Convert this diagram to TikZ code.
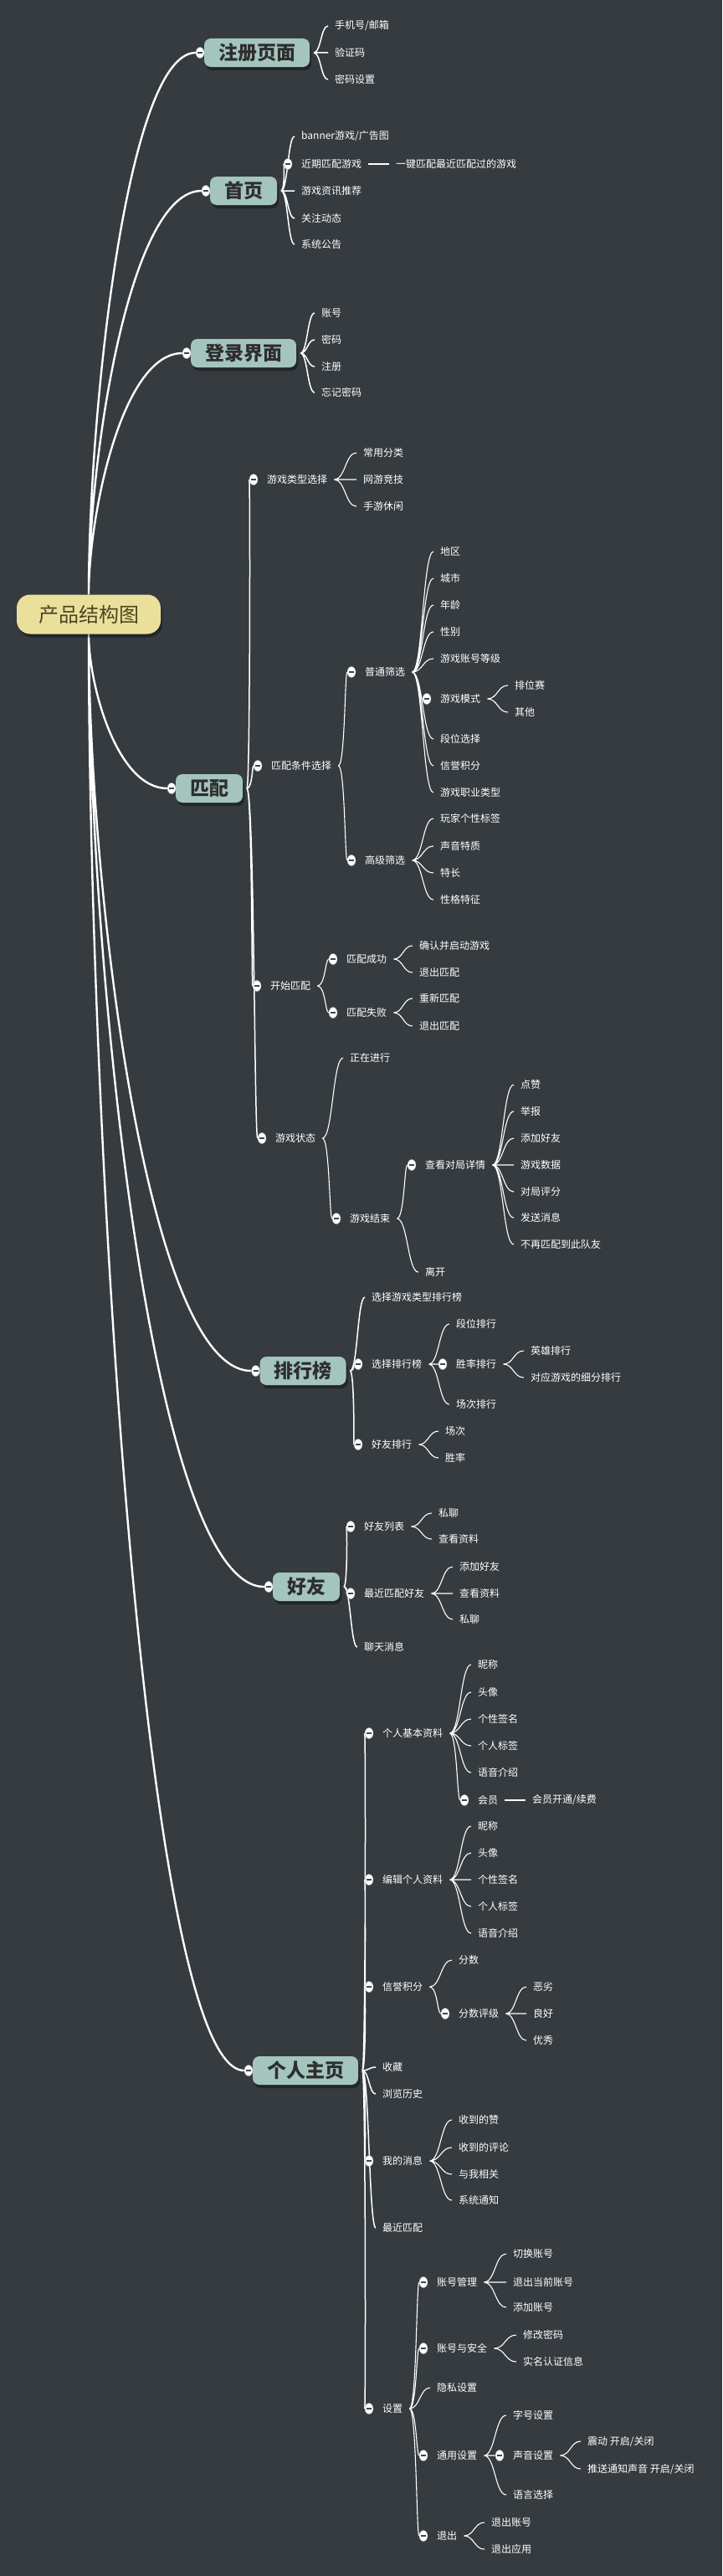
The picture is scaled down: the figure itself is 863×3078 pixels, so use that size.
\documentclass[tikz,border=0pt]{standalone}
\usepackage{fontspec}
\setmainfont{Noto Sans CJK SC}
\usetikzlibrary{calc,shapes.geometric,shadows}
\definecolor{bgc}{HTML}{363B3F}
\definecolor{topicfill}{HTML}{A4C5BD}
\definecolor{topictext}{HTML}{2E2E2E}
\definecolor{rootfill}{HTML}{EAE09C}
\definecolor{roottext}{HTML}{4E4420}
\definecolor{knobdark}{HTML}{444444}
\pgfdeclarelayer{back}
\pgfdeclarelayer{wires}
\pgfsetlayers{back,wires,main}
\begin{document}
\begin{tikzpicture}[x=1pt,y=-1pt,
  root/.style={rounded corners=16pt, fill=rootfill, text=roottext, font=\fontsize{24}{26}\selectfont,
    minimum width=172pt, minimum height=47pt, drop shadow={shadow xshift=2pt, shadow yshift=-4pt, fill=black, opacity=.35}},
  topic/.style={rounded corners=8pt, fill=topicfill, text=topictext, font=\bfseries\fontsize{23}{25}\selectfont,
    inner xsep=17pt, minimum height=34pt, outer xsep=5pt,
    drop shadow={shadow xshift=2pt, shadow yshift=-4pt, fill=black, opacity=.35}},
  item/.style={anchor=west, text=white, font=\fontsize{12}{14}\selectfont, inner xsep=8pt, inner ysep=2pt},
  knob/.style={ellipse, anchor=center, fill=white, draw=gray!70, line width=.4pt, minimum width=10pt,
    minimum height=13pt, inner sep=0pt,
    path picture={\draw[knobdark, line width=1.3pt] ([xshift=-3pt]path picture bounding box.center) -- ([xshift=3pt]path picture bounding box.center);}},
  head/.style={label={[knob,name=#1]left:{}}},
  fold/.style={label={[knob,name=#1,xshift=-8pt]left:{}}},
  trunk/.style={white, line width=2.4pt, to path={.. controls ($(\tikztostart)!0.33!(\tikztostart|-\tikztotarget)$) and ($(\tikztotarget)!0.66!(\tikztotarget-|\tikztostart)$) .. (\tikztotarget)}},
  sub/.style={white, line width=1.1pt, to path={.. controls ($(\tikztostart)!0.5!(\tikztostart-|\tikztotarget)$) and ($(\tikztotarget)!0.5!(\tikztotarget-|\tikztostart)$) .. (\tikztotarget)}},
  limb/.style={sub, line width=1.5pt}]
\useasboundingbox (0,0) rectangle (863,3078);
\begin{pgfonlayer}{back}
\fill[bgc] (0,0) rectangle (863,3078);
\end{pgfonlayer}

\node[root] (r) at (106,734) {产品结构图};
\node[topic,head=zck] (zc) at (307,63) {注册页面};
\node[topic,head=syk] (sy) at (291,228) {首页};
\node[topic,head=dlk] (dl) at (291,422) {登录界面};
\node[topic,head=ppk] (pp) at (250,942) {匹配};
\node[topic,head=phk] (ph) at (362,1638) {排行榜};
\node[topic,head=hyk] (hy) at (366,1896) {好友};
\node[topic,head=grk] (gr) at (365,2474) {个人主页};

\node[item] (zc1) at (392,31) {手机号/邮箱};
\node[item] (zc2) at (392,63) {验证码};
\node[item] (zc3) at (392,95) {密码设置};

\node[item] (sy1) at (352,163) {banner游戏/广告图};
\node[item,fold=sy2k] (sy2) at (352,196) {近期匹配游戏};
\node[item] (sy3) at (352,228) {游戏资讯推荐};
\node[item] (sy4) at (352,261) {关注动态};
\node[item] (sy5) at (352,292) {系统公告};
\node[item] (sy21) at (465,196) {一键匹配最近匹配过的游戏};

\node[item] (dl1) at (376,374) {账号};
\node[item] (dl2) at (376,406) {密码};
\node[item] (dl3) at (376,438) {注册};
\node[item] (dl4) at (376,469) {忘记密码};

\node[item,fold=lxk] (lx) at (311,573) {游戏类型选择};
\node[item] (lx1) at (426,541) {常用分类};
\node[item] (lx2) at (426,573) {网游竞技};
\node[item] (lx3) at (426,605) {手游休闲};
\node[item,fold=tjk] (tj) at (316,915) {匹配条件选择};
\node[item,fold=ptk] (pt) at (428,803) {普通筛选};
\node[item] (pt1) at (518,659) {地区};
\node[item] (pt2) at (518,691) {城市};
\node[item] (pt3) at (518,723) {年龄};
\node[item] (pt4) at (518,755) {性别};
\node[item] (pt5) at (518,787) {游戏账号等级};
\node[item,fold=pt6k] (pt6) at (518,835) {游戏模式};
\node[item] (pt7) at (518,883) {段位选择};
\node[item] (pt8) at (518,915) {信誉积分};
\node[item] (pt9) at (518,947) {游戏职业类型};
\node[item] (pt61) at (607,819) {排位赛};
\node[item] (pt62) at (607,851) {其他};
\node[item,fold=gjk] (gj) at (428,1028) {高级筛选};
\node[item] (gj1) at (518,978) {玩家个性标签};
\node[item] (gj2) at (518,1011) {声音特质};
\node[item] (gj3) at (518,1043) {特长};
\node[item] (gj4) at (518,1075) {性格特征};
\node[item,fold=ksk] (ks) at (315,1178) {开始匹配};
\node[item,fold=cgk] (cg) at (406,1146) {匹配成功};
\node[item] (cg1) at (493,1130) {确认并启动游戏};
\node[item] (cg2) at (493,1162) {退出匹配};
\node[item,fold=sbk] (sb) at (406,1210) {匹配失败};
\node[item] (sb1) at (493,1193) {重新匹配};
\node[item] (sb2) at (493,1226) {退出匹配};
\node[item,fold=ztk] (zt) at (321,1360) {游戏状态};
\node[item] (zt1) at (410,1264) {正在进行};
\node[item,fold=jsk] (js) at (410,1456) {游戏结束};
\node[item,fold=ckk] (ck) at (500,1392) {查看对局详情};
\node[item] (ck1) at (614,1296) {点赞};
\node[item] (ck2) at (614,1328) {举报};
\node[item] (ck3) at (614,1360) {添加好友};
\node[item] (ck4) at (614,1392) {游戏数据};
\node[item] (ck5) at (614,1424) {对局评分};
\node[item] (ck6) at (614,1455) {发送消息};
\node[item] (ck7) at (614,1487) {不再匹配到此队友};
\node[item] (js2) at (500,1520) {离开};

\node[item] (ph1) at (436,1550) {选择游戏类型排行榜};
\node[item,fold=xzk] (xz) at (436,1630) {选择排行榜};
\node[item] (xz1) at (537,1582) {段位排行};
\node[item,fold=xz2k] (xz2) at (537,1630) {胜率排行};
\node[item] (xz3) at (537,1678) {场次排行};
\node[item] (xz21) at (626,1614) {英雄排行};
\node[item] (xz22) at (626,1646) {对应游戏的细分排行};
\node[item,fold=hpk] (hp) at (436,1726) {好友排行};
\node[item] (hp1) at (524,1710) {场次};
\node[item] (hp2) at (524,1742) {胜率};

\node[item,fold=hlk] (hl) at (427,1824) {好友列表};
\node[item] (hl1) at (516,1808) {私聊};
\node[item] (hl2) at (516,1839) {查看资料};
\node[item,fold=zjk] (zj) at (427,1904) {最近匹配好友};
\node[item] (zj1) at (541,1872) {添加好友};
\node[item] (zj2) at (541,1904) {查看资料};
\node[item] (zj3) at (541,1935) {私聊};
\node[item] (lt) at (427,1968) {聊天消息};

\node[item,fold=jbk] (jb) at (449,2071) {个人基本资料};
\node[item] (jb1) at (563,1989) {昵称};
\node[item] (jb2) at (563,2022) {头像};
\node[item] (jb3) at (563,2054) {个性签名};
\node[item] (jb4) at (563,2086) {个人标签};
\node[item] (jb5) at (563,2118) {语音介绍};
\node[item,fold=jb6k] (jb6) at (563,2151) {会员};
\node[item] (jb61) at (628,2151) {会员开通/续费};
\node[item,fold=bjk] (bj) at (449,2246) {编辑个人资料};
\node[item] (bj1) at (563,2182) {昵称};
\node[item] (bj2) at (563,2214) {头像};
\node[item] (bj3) at (563,2246) {个性签名};
\node[item] (bj4) at (563,2278) {个人标签};
\node[item] (bj5) at (563,2310) {语音介绍};
\node[item,fold=xyk] (xy) at (449,2374) {信誉积分};
\node[item] (xy1) at (540,2342) {分数};
\node[item,fold=xy2k] (xy2) at (540,2406) {分数评级};
\node[item] (xy21) at (629,2374) {恶劣};
\node[item] (xy22) at (629,2406) {良好};
\node[item] (xy23) at (629,2438) {优秀};
\node[item] (sc) at (449,2470) {收藏};
\node[item] (ll) at (449,2502) {浏览历史};
\node[item,fold=wdk] (wd) at (449,2582) {我的消息};
\node[item] (wd1) at (540,2533) {收到的赞};
\node[item] (wd2) at (540,2566) {收到的评论};
\node[item] (wd3) at (540,2598) {与我相关};
\node[item] (wd4) at (540,2629) {系统通知};
\node[item] (zp) at (449,2662) {最近匹配};
\node[item,fold=szk] (sz) at (449,2878) {设置};
\node[item,fold=zgk] (zg) at (514,2727) {账号管理};
\node[item] (zg1) at (605,2693) {切换账号};
\node[item] (zg2) at (605,2727) {退出当前账号};
\node[item] (zg3) at (605,2757) {添加账号};
\node[item,fold=aqk] (aq) at (514,2806) {账号与安全};
\node[item] (aq1) at (617,2790) {修改密码};
\node[item] (aq2) at (617,2822) {实名认证信息};
\node[item] (ys) at (514,2853) {隐私设置};
\node[item,fold=tyk] (ty) at (514,2934) {通用设置};
\node[item] (ty1) at (605,2886) {字号设置};
\node[item,fold=ty2k] (ty2) at (605,2934) {声音设置};
\node[item] (ty3) at (605,2981) {语言选择};
\node[item] (ty21) at (694,2917) {震动 开启/关闭};
\node[item] (ty22) at (694,2950) {推送通知声音 开启/关闭};
\node[item,fold=tck] (tc) at (514,3030) {退出};
\node[item] (tc1) at (579,3014) {退出账号};
\node[item] (tc2) at (579,3046) {退出应用};

\begin{pgfonlayer}{wires}
\draw[trunk] (r.north) to (zck) (r.north) to (syk) (r.north) to (dlk);
\draw[trunk] (r.south) to (ppk) (r.south) to (phk) (r.south) to (hyk) (r.south) to (grk);

\draw[limb] (zc.east) to (zc1.west) (zc.east) to (zc2.west) (zc.east) to (zc3.west);
\draw[limb] (sy.east) to (sy1.west) (sy.east) to (sy2k) (sy.east) to (sy3.west) (sy.east) to (sy4.west) (sy.east) to (sy5.west);
\draw[sub, line width=2pt] (sy2.east) to (sy21.west);
\draw[limb] (dl.east) to (dl1.west) (dl.east) to (dl2.west) (dl.east) to (dl3.west) (dl.east) to (dl4.west);

\draw[limb] (pp.east) to (lxk) (pp.east) to (tjk) (pp.east) to (ksk) (pp.east) to (ztk);
\draw[sub] (lx.east) to (lx1.west) (lx.east) to (lx2.west) (lx.east) to (lx3.west);
\draw[sub] (tj.east) to (ptk) (tj.east) to (gjk);
\draw[sub] (pt.east) to (pt1.west) (pt.east) to (pt2.west) (pt.east) to (pt3.west) (pt.east) to (pt4.west)
  (pt.east) to (pt5.west) (pt.east) to (pt6k) (pt.east) to (pt7.west) (pt.east) to (pt8.west) (pt.east) to (pt9.west);
\draw[sub] (pt6.east) to (pt61.west) (pt6.east) to (pt62.west);
\draw[sub] (gj.east) to (gj1.west) (gj.east) to (gj2.west) (gj.east) to (gj3.west) (gj.east) to (gj4.west);
\draw[sub] (ks.east) to (cgk) (ks.east) to (sbk);
\draw[sub] (cg.east) to (cg1.west) (cg.east) to (cg2.west);
\draw[sub] (sb.east) to (sb1.west) (sb.east) to (sb2.west);
\draw[sub] (zt.east) to (zt1.west) (zt.east) to (jsk);
\draw[sub] (js.east) to (ckk) (js.east) to (js2.west);
\draw[sub] (ck.east) to (ck1.west) (ck.east) to (ck2.west) (ck.east) to (ck3.west) (ck.east) to (ck4.west)
  (ck.east) to (ck5.west) (ck.east) to (ck6.west) (ck.east) to (ck7.west);

\draw[limb] (ph.east) to (ph1.west) (ph.east) to (xzk) (ph.east) to (hpk);
\draw[sub] (xz.east) to (xz1.west) (xz.east) to (xz2k) (xz.east) to (xz3.west);
\draw[sub] (xz2.east) to (xz21.west) (xz2.east) to (xz22.west);
\draw[sub] (hp.east) to (hp1.west) (hp.east) to (hp2.west);

\draw[limb] (hy.east) to (hlk) (hy.east) to (zjk) (hy.east) to (lt.west);
\draw[sub] (hl.east) to (hl1.west) (hl.east) to (hl2.west);
\draw[sub] (zj.east) to (zj1.west) (zj.east) to (zj2.west) (zj.east) to (zj3.west);

\draw[limb] (gr.east) to (jbk) (gr.east) to (bjk) (gr.east) to (xyk) (gr.east) to (sc.west)
  (gr.east) to (ll.west) (gr.east) to (wdk) (gr.east) to (zp.west) (gr.east) to (szk);
\draw[sub] (jb.east) to (jb1.west) (jb.east) to (jb2.west) (jb.east) to (jb3.west) (jb.east) to (jb4.west)
  (jb.east) to (jb5.west) (jb.east) to (jb6k);
\draw[sub, line width=2pt] (jb6.east) to (jb61.west);
\draw[sub] (bj.east) to (bj1.west) (bj.east) to (bj2.west) (bj.east) to (bj3.west) (bj.east) to (bj4.west) (bj.east) to (bj5.west);
\draw[sub] (xy.east) to (xy1.west) (xy.east) to (xy2k);
\draw[sub] (xy2.east) to (xy21.west) (xy2.east) to (xy22.west) (xy2.east) to (xy23.west);
\draw[sub] (wd.east) to (wd1.west) (wd.east) to (wd2.west) (wd.east) to (wd3.west) (wd.east) to (wd4.west);
\draw[sub] (sz.east) to (zgk) (sz.east) to (aqk) (sz.east) to (ys.west) (sz.east) to (tyk) (sz.east) to (tck);
\draw[sub] (zg.east) to (zg1.west) (zg.east) to (zg2.west) (zg.east) to (zg3.west);
\draw[sub] (aq.east) to (aq1.west) (aq.east) to (aq2.west);
\draw[sub] (ty.east) to (ty1.west) (ty.east) to (ty2k) (ty.east) to (ty3.west);
\draw[sub] (ty2.east) to (ty21.west) (ty2.east) to (ty22.west);
\draw[sub] (tc.east) to (tc1.west) (tc.east) to (tc2.west);
\end{pgfonlayer}
\end{tikzpicture}
\end{document}
